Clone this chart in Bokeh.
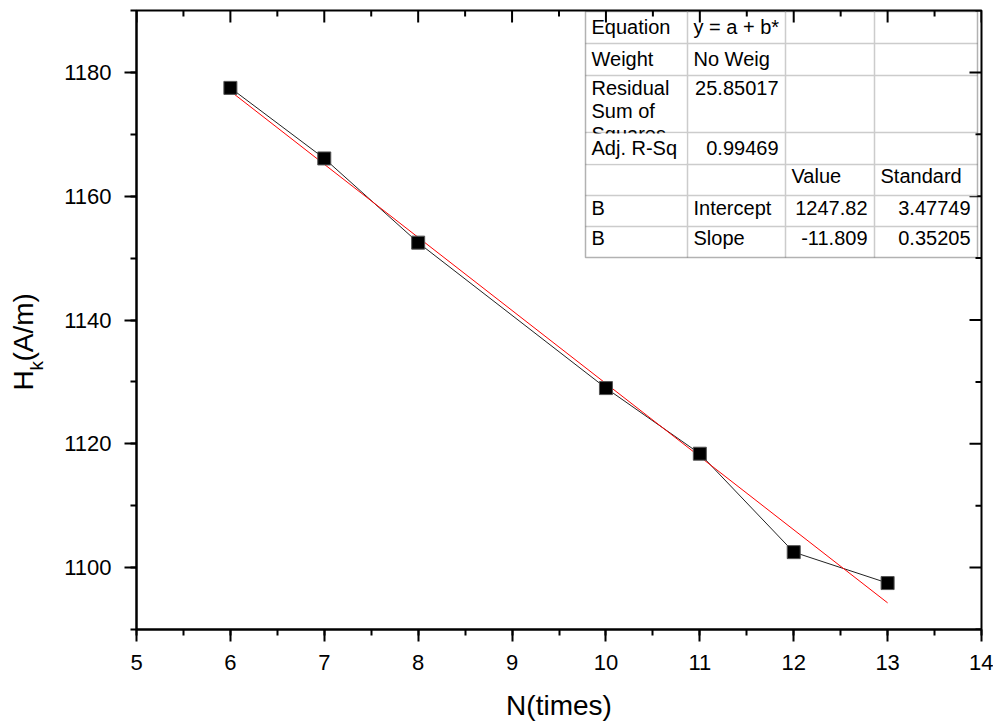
from bokeh.plotting import figure
from bokeh.layouts import row
from bokeh.models import (Range1d, Label, BoxAnnotation,
                          SingleIntervalTicker, ColumnDataSource)
from bokeh.core.properties import value
from bokeh.embed import file_html
from bokeh.resources import INLINE

# ---------------- data ----------------
n_times = [6, 7, 8, 10, 11, 12, 13]
hk_values = [1177.5, 1166.1, 1152.5, 1129.0, 1118.4, 1102.5, 1097.5]
fit_intercept = 1247.82
fit_slope = -11.809
fit_x = [6, 13]

x_range = (5, 14)
y_range = (1090, 1190)
x_major = [5, 6, 7, 8, 9, 10, 11, 12, 13, 14]
x_minor = [5.5, 6.5, 7.5, 8.5, 9.5, 10.5, 11.5, 12.5, 13.5]
y_major = [1100, 1120, 1140, 1160, 1180]
y_minor = [1090, 1110, 1130, 1150, 1170, 1190]

x_title = "N(times)"
y_title_parts = ["H", "k", "(A/m)"]

table_rows = [
    ["Equation", "y = a + b*", "", ""],
    ["Weight", "No Weig", "", ""],
    ["Residual|Sum of|Squares", "25.85017", "", ""],
    ["Adj. R-Sq", "0.99469", "", ""],
    ["", "", "Value", "Standard"],
    ["B", "Intercept", "1247.82", "3.47749"],
    ["B", "Slope", "-11.809", "0.35205"],
]
table_align = [
    ["l", "l", "l", "l"],
    ["l", "l", "l", "l"],
    ["l", "r", "l", "l"],
    ["l", "r", "l", "l"],
    ["l", "l", "l", "l"],
    ["l", "l", "r", "r"],
    ["l", "l", "r", "r"],
]

FONT = "Liberation Sans"
FW, FH = 845, 619
TOP, BOTTOM = 10, 96
LABW = 50
TOTAL_H = TOP + FH + BOTTOM

p = figure(frame_width=FW, frame_height=FH,
           x_range=Range1d(*x_range), y_range=Range1d(*y_range),
           output_backend="svg", toolbar_location=None,
           min_border_left=136 - LABW, min_border_top=TOP, min_border_right=12,
           min_border_bottom=BOTTOM, background_fill_color="white",
           border_fill_color="white")
p.grid.visible = False
p.outline_line_color = "black"
p.outline_line_width = 2


def px_to_x(px):
    return x_range[0] + px / FW * (x_range[1] - x_range[0])


def py_to_y(py):
    return y_range[1] - py / FH * (y_range[1] - y_range[0])


DX = (x_range[1] - x_range[0]) / FW   # data per pixel (x)
DY = (y_range[1] - y_range[0]) / FH   # data per pixel (y)

xt = SingleIntervalTicker(interval=1, num_minor_ticks=2)
yt = SingleIntervalTicker(interval=20, num_minor_ticks=2)

for ax in (p.xaxis[0], p.yaxis[0]):
    ax.axis_line_width = 2
    ax.major_tick_line_width = 2
    ax.minor_tick_line_width = 2
    ax.major_tick_in, ax.major_tick_out = 0, 12
    ax.minor_tick_in, ax.minor_tick_out = 0, 6
    ax.major_label_text_font = FONT
    ax.major_label_text_font_size = "22px"
    ax.major_label_text_color = "black"

p.xaxis.ticker = xt
p.yaxis.ticker = yt
p.xaxis.major_label_standoff = 13
p.yaxis.major_label_standoff = 13
p.xaxis.axis_label = x_title
p.xaxis.axis_label_text_font = FONT
p.xaxis.axis_label_text_font_size = "28px"
p.xaxis.axis_label_text_font_style = "normal"
p.xaxis.axis_label_text_color = "black"
p.xaxis.axis_label_standoff = 17

# inward ticks on the top and right frame edges
tx0, ty0, tx1, ty1 = [], [], [], []
for v, ln in [(v, 12) for v in x_major] + [(v, 6) for v in x_minor]:
    tx0.append(v); tx1.append(v)
    ty0.append(y_range[1]); ty1.append(y_range[1] - ln * DY)
for v, ln in [(v, 12) for v in y_major] + [(v, 6) for v in y_minor]:
    ty0.append(v); ty1.append(v)
    tx0.append(x_range[1]); tx1.append(x_range[1] - ln * DX)
p.segment(tx0, ty0, tx1, ty1, line_color="black", line_width=2)

# ---------------- data marks ----------------
src = ColumnDataSource(dict(x=n_times, y=hk_values))
p.line("x", "y", source=src, line_color="#222222", line_width=1)
fit_src = ColumnDataSource(dict(x=fit_x, y=[fit_intercept + fit_slope * v for v in fit_x]))
p.line("x", "y", source=fit_src, line_color="#ff0000", line_width=1)
p.scatter("x", "y", source=src, marker="square", size=13,
          fill_color="black", line_color="#555555", line_width=1)

# ---------------- fit table ----------------
col_edges = [449, 551, 649, 738, 841]
row_edges = [1, 33, 65, 122, 154, 185, 216, 247]
row_base = [16, 48, 77, 137, 165, 197, 227]

xs0, ys0, xs1, ys1 = [], [], [], []
for r in row_edges[1:-1]:
    xs0.append(px_to_x(col_edges[0])); xs1.append(px_to_x(col_edges[-1]))
    ys0.append(py_to_y(r)); ys1.append(py_to_y(r))
for c in col_edges[1:-1]:
    xs0.append(px_to_x(c)); xs1.append(px_to_x(c))
    ys0.append(py_to_y(row_edges[0])); ys1.append(py_to_y(row_edges[-1]))
p.segment(xs0, ys0, xs1, ys1, line_color="#cccccc", line_width=1.5)

cell_kw = dict(x_units="data", y_units="data", text_font=FONT,
               text_font_size="20px", text_color="black",
               text_baseline="alphabetic")
for ri, trow in enumerate(table_rows):
    for ci, txt in enumerate(trow):
        if not txt:
            continue
        al = table_align[ri][ci]
        xpx = col_edges[ci] + 6 if al == "l" else col_edges[ci + 1] - 7
        lines = txt.split("|")
        for li, ln in enumerate(lines):
            p.add_layout(Label(x=px_to_x(xpx), y=py_to_y(row_base[ri] + 23 * li),
                               text=ln, text_align="left" if al == "l" else "right",
                               **cell_kw))
        if len(lines) > 2:
            # the cell clips its third line: cover it below the row border
            p.add_layout(BoxAnnotation(
                left=px_to_x(col_edges[ci] + 1), right=px_to_x(col_edges[ci + 1] - 1),
                top=py_to_y(row_edges[ri + 1] + 1), bottom=py_to_y(row_edges[ri + 2] - 1),
                fill_color="white", fill_alpha=1, line_alpha=0))

p.add_layout(BoxAnnotation(left=px_to_x(col_edges[0]), right=px_to_x(col_edges[-1]),
                           top=py_to_y(row_edges[0]), bottom=py_to_y(row_edges[-1]),
                           fill_alpha=0, line_color="black", line_width=1.5, level="overlay"))

# ---------------- y axis title (with subscript), in its own strip ----------------
lab = figure(frame_width=LABW, frame_height=TOTAL_H,
             x_range=Range1d(0, LABW), y_range=Range1d(TOTAL_H, 0),
             output_backend="svg", toolbar_location=None,
             x_axis_location=None, y_axis_location=None,
             min_border=0, outline_line_color=None,
             background_fill_color="white", border_fill_color="white")
lab.grid.visible = False
lab.text(x=[23], y=[380], text=[y_title_parts[0]], angle=1.5708,
         text_font=value(FONT), text_font_size="28px", text_color="black",
         text_baseline="alphabetic", text_align="left")
lab.text(x=[36], y=[360], text=[y_title_parts[1]], angle=1.5708,
         text_font=value(FONT), text_font_size="19px", text_color="black",
         text_baseline="alphabetic", text_align="left")
lab.text(x=[23], y=[351], text=[y_title_parts[2]], angle=1.5708,
         text_font=value(FONT), text_font_size="28px", text_color="black",
         text_baseline="alphabetic", text_align="left")

layout = row(lab, p, spacing=0)
open("out.html", "w").write(file_html(layout, INLINE))
